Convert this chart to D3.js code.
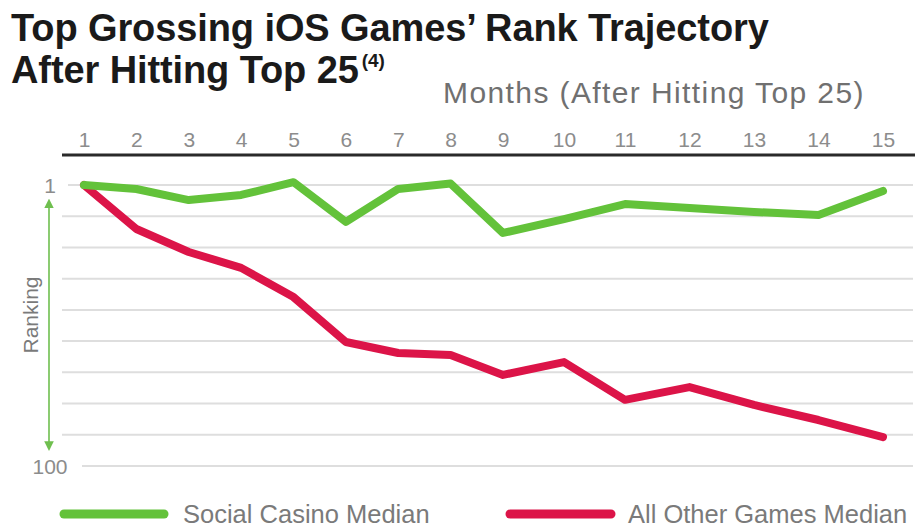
<!DOCTYPE html>
<html>
<head>
<meta charset="utf-8">
<script src="https://cdn.jsdelivr.net/npm/d3@7"></script>
<style>
  html, body { margin: 0; padding: 0; background: #fff; }
  svg { display: block; font-family: "Liberation Sans", Arial, Helvetica, sans-serif; }
</style>
</head>
<body>
<svg id="chart" width="915" height="529"></svg>
<script>
// ---- data ----
const months = [1, 2, 3, 4, 5, 6, 7, 8, 9, 10, 11, 12, 13, 14, 15];
const socialCasinoRank = [1, 2.4, 6.3, 4.5, 0, 14.0, 2.4, 0.5, 17.9, 13.0, 7.7, 9.1, 10.5, 11.6, 3.1];
const allOtherRank = [1, 16.5, 24.6, 30.2, 40.5, 56.3, 60.2, 60.9, 67.9, 63.4, 76.7, 72.2, 78.5, 83.8, 89.8];
const gridRanks = [1, 12, 23, 34, 45, 56, 67, 78, 89, 100];
const yTickLabels = [1, 100];
const seriesNames = ["Social Casino Median", "All Other Games Median"];
const titleLines = ["Top Grossing iOS Games\u2019 Rank Trajectory", "After Hitting Top 25"];
const titleNote = "(4)";
const xTitle = "Months (After Hitting Top 25)";
const yTitle = "Ranking";

// ---- styles ----
const GREEN = "#63c23a";
const RED = "#dc1448";
const svg = d3.select("#chart");

const x = d3.scaleLinear().domain([1, 9, 11, 15]).range([84, 503, 625, 883]);
const y = d3.scaleLinear().domain([1, 100]).range([185, 466]);

// title
const t = svg.append("g").attr("fill", "#1a1a1a").attr("font-weight", "bold");
t.append("text").attr("x", 11).attr("y", 41).attr("font-size", 38).attr("letter-spacing", -0.1).text(titleLines[0]);
const t2 = t.append("text").attr("x", 11).attr("y", 83).attr("font-size", 38).attr("letter-spacing", -0.1);
t2.append("tspan").text(titleLines[1]);
t2.append("tspan").attr("font-size", 19).attr("dy", -16).attr("dx", 3).text(titleNote);

// x title
svg.append("text").attr("x", 443).attr("y", 103).attr("font-size", 30)
  .attr("letter-spacing", 1.4).attr("fill", "#707070").text(xTitle);

// gridlines
svg.append("g").selectAll("line").data(gridRanks).join("line")
  .attr("x1", d => d === 100 ? 82 : (d === 1 ? 68 : 62)).attr("x2", 913)
  .attr("y1", d => y(d)).attr("y2", d => y(d))
  .attr("stroke", "#dedede").attr("stroke-width", 2);

// top axis
const xAxis = d3.axisTop(x).tickValues(months).tickSize(0).tickPadding(8).tickFormat(d3.format("d"));
const gx = svg.append("g").attr("transform", "translate(0,155)").call(xAxis);
gx.select(".domain").remove();
gx.selectAll("text").attr("font-size", 21).attr("fill", "#8c8c8c")
  .attr("font-family", "'Liberation Sans', Arial, sans-serif");
svg.append("line").attr("x1", 62).attr("x2", 915).attr("y1", 155).attr("y2", 155)
  .attr("stroke", "#2a2a2a").attr("stroke-width", 3);

// y tick labels
svg.append("g").selectAll("text").data(yTickLabels).join("text")
  .attr("x", 50).attr("y", d => y(d)).attr("dy", "0.36em")
  .attr("text-anchor", "middle").attr("font-size", 21).attr("fill", "#8c8c8c")
  .text(d => d);

// y arrow
const defs = svg.append("defs");
defs.append("marker").attr("id", "arr").attr("viewBox", "0 0 10 10").attr("refX", 5).attr("refY", 5)
  .attr("markerWidth", 6).attr("markerHeight", 6).attr("orient", "auto-start-reverse")
  .append("path").attr("d", "M0,0 L10,5 L0,10 z").attr("fill", "#6fbf4f");
svg.append("line").attr("x1", 49).attr("x2", 49).attr("y1", y(7.5)).attr("y2", y(93))
  .attr("stroke", "#6fbf4f").attr("stroke-width", 1.6)
  .attr("marker-start", "url(#arr)").attr("marker-end", "url(#arr)");

// y title
svg.append("text").attr("transform", "translate(38,315) rotate(-90)")
  .attr("text-anchor", "middle").attr("font-size", 21).attr("fill", "#7a7a7a").text(yTitle);

// lines
const line = d3.line().x((d, i) => x(months[i])).y(d => y(d));
svg.append("path").datum(allOtherRank).attr("d", line)
  .attr("fill", "none").attr("stroke", RED).attr("stroke-width", 8)
  .attr("stroke-linejoin", "round").attr("stroke-linecap", "round");
svg.append("path").datum(socialCasinoRank).attr("d", line)
  .attr("fill", "none").attr("stroke", GREEN).attr("stroke-width", 8)
  .attr("stroke-linejoin", "round").attr("stroke-linecap", "round");

// legend
const legend = [
  { name: seriesNames[0], color: GREEN, x1: 64, x2: 164, tx: 183 },
  { name: seriesNames[1], color: RED, x1: 510, x2: 611, tx: 628 }
];
const lg = svg.append("g").selectAll("g").data(legend).join("g");
lg.append("line").attr("x1", d => d.x1).attr("x2", d => d.x2).attr("y1", 514).attr("y2", 514)
  .attr("stroke", d => d.color).attr("stroke-width", 9).attr("stroke-linecap", "round");
lg.append("text").attr("x", d => d.tx).attr("y", 523).attr("font-size", 25.5)
  .attr("fill", "#7a7a7a").text(d => d.name);
</script>
</body>
</html>
